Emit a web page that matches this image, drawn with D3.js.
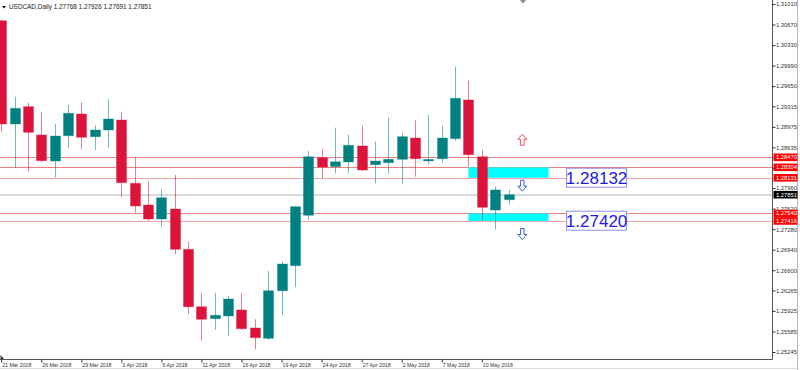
<!DOCTYPE html>
<html><head><meta charset="utf-8">
<script src="https://cdn.jsdelivr.net/npm/d3@7"></script>
<style>body{margin:0;background:#fff;}svg{display:block;}text{font-family:"Liberation Sans",Arial,sans-serif;}</style>
</head><body><svg id="c" width="800" height="370"></svg>
<script>
const dates = ["21 Mar 2018","22 Mar 2018","23 Mar 2018","26 Mar 2018","27 Mar 2018","28 Mar 2018","29 Mar 2018","30 Mar 2018","2 Apr 2018","3 Apr 2018","4 Apr 2018","5 Apr 2018","6 Apr 2018","9 Apr 2018","10 Apr 2018","11 Apr 2018","12 Apr 2018","13 Apr 2018","16 Apr 2018","17 Apr 2018","18 Apr 2018","19 Apr 2018","20 Apr 2018","23 Apr 2018","24 Apr 2018","25 Apr 2018","26 Apr 2018","27 Apr 2018","30 Apr 2018","1 May 2018","2 May 2018","3 May 2018","4 May 2018","7 May 2018","8 May 2018","9 May 2018","10 May 2018","11 May 2018","14 May 2018"];
const open  = [1.30733,1.29022,1.29309,1.28840,1.28409,1.28828,1.29188,1.28812,1.28923,1.29088,1.28040,1.27680,1.27448,1.27614,1.26946,1.25995,1.25797,1.25841,1.25941,1.25643,1.25472,1.26260,1.26675,1.27510,1.28464,1.28315,1.28393,1.28658,1.28348,1.28381,1.28437,1.28790,1.28428,1.28447,1.28779,1.29420,1.28480,1.27597,1.27768];
const high  = [1.30750,1.29474,1.29375,1.29216,1.29022,1.29337,1.29382,1.29001,1.29431,1.29226,1.28480,1.28066,1.27950,1.28177,1.27072,1.26227,1.26227,1.26173,1.26227,1.25787,1.26587,1.26741,1.27664,1.28575,1.28603,1.28961,1.28845,1.28994,1.28735,1.29126,1.28878,1.29083,1.29171,1.28989,1.29971,1.29739,1.28591,1.27984,1.27926];
const low   = [1.28894,1.28288,1.28232,1.28388,1.28139,1.28619,1.28603,1.28591,1.28619,1.27808,1.27553,1.27420,1.27311,1.26868,1.25874,1.25432,1.25610,1.25510,1.25610,1.25290,1.25443,1.25853,1.26317,1.27432,1.28116,1.28205,1.28205,1.28243,1.28040,1.28194,1.28023,1.28149,1.28354,1.28381,1.28745,1.28315,1.27420,1.27277,1.27691];
const close = [1.29022,1.29282,1.28884,1.28414,1.28823,1.29199,1.28802,1.28923,1.29105,1.28050,1.27664,1.27448,1.27801,1.26946,1.25995,1.25787,1.25853,1.26123,1.25631,1.25482,1.26260,1.26703,1.27652,1.28480,1.28310,1.28397,1.28669,1.28260,1.28409,1.28437,1.28812,1.28447,1.28435,1.28790,1.29448,1.28514,1.27642,1.27929,1.27851];
const yTicks = [1.31010,1.30670,1.30330,1.29990,1.29650,1.29315,1.28975,1.28635,1.28295,1.27960,1.27620,1.27280,1.26940,1.26600,1.26265,1.25925,1.25585,1.25245];
const xLabelIdx = [0,3,6,9,12,15,18,21,24,27,30,33,36];
const redLevels = [1.28470,1.28304,1.28131,1.27540,1.27416];
const redLevelStyle = ["#ef7f7f","#ef7f7f","#f5a3a3","#ef7f7f","#f5a3a3"];
const lastPrice = 1.27851;
const zones = [[1.28304,1.28131],[1.27540,1.27416]];
const boxLabels = [1.28132,1.27420];
const header = "USDCAD,Daily 1.27768 1.27926 1.27691 1.27851";

const svg = d3.select("#c");
const W = 800, H = 370, plotR = 772.5, plotB = 359;
const x = d3.scaleLinear().domain([0, 38]).range([1.2, 1.2 + 13.35*38]);
const y = d3.scaleLinear().domain([1.25245, 1.31010]).range([352, 4]);
const GREEN = "#008080", RED = "#dc143c";

svg.append("rect").attr("width",W).attr("height",H).attr("fill","#fff");
const plot = svg.append("g");
plot.append("clipPath").attr("id","clip").append("rect").attr("x",0).attr("y",0).attr("width",plotR).attr("height",plotB);
const g = plot.append("g").attr("clip-path","url(#clip)");

// price lines
g.selectAll(".lvl").data(redLevels).join("line")
  .attr("x1",0).attr("x2",plotR).attr("y1",d=>Math.round(y(d))+0.5).attr("y2",d=>Math.round(y(d))+0.5)
  .attr("stroke",(d,i)=>redLevelStyle[i]).attr("stroke-width",1);
g.append("line").attr("x1",0).attr("x2",plotR).attr("y1",Math.round(y(lastPrice))).attr("y2",Math.round(y(lastPrice)))
  .attr("stroke","#d8dadd").attr("stroke-width",2);

// zones
g.selectAll(".zone").data(zones).join("rect")
  .attr("x",x(35)).attr("width",x(41)-x(35))
  .attr("y",d=>y(d[0])).attr("height",d=>y(d[1])-y(d[0]))
  .attr("fill","#00ffff");

// candles
const idx = d3.range(dates.length);
const col = i => close[i] >= open[i] ? GREEN : RED;
g.selectAll(".wick").data(idx).join("line")
  .attr("x1",i=>Math.round(x(i))+0.5).attr("x2",i=>Math.round(x(i))+0.5)
  .attr("y1",i=>y(high[i])).attr("y2",i=>y(low[i]))
  .attr("stroke",col).attr("stroke-opacity",0.55).attr("stroke-width",1);
g.selectAll(".body").data(idx).join("rect")
  .attr("x",i=>Math.round(x(i))-4.5).attr("width",10)
  .attr("y",i=>y(Math.max(open[i],close[i])))
  .attr("height",i=>Math.max(1.5, Math.abs(y(open[i])-y(close[i]))))
  .attr("fill",col).attr("stroke",col).attr("stroke-opacity",0.35).attr("stroke-width",1);

// arrows
function arrow(cx, cy, up, color){
  const s = up ? 1 : -1;
  const pts = [[0,-5.5],[4.5,-0.5],[1.7,-0.5],[1.7,5.5],[-1.7,5.5],[-1.7,-0.5],[-4.5,-0.5]]
    .map(p=>[cx+p[0], cy+s*p[1]]);
  g.append("path").attr("d","M"+pts.map(p=>p.join(",")).join("L")+"Z")
    .attr("fill","#fff").attr("stroke",color).attr("stroke-width",1);
}
arrow(x(39)+0.5, y(1.28760), true, "#f0505a");
arrow(x(39)+0.5, y(1.28000), false, "#3a5adf");
arrow(x(39)+0.5, y(1.27200), false, "#3a5adf");

// value boxes
boxLabels.forEach(v=>{
  const bx = x(42.35), cy = y(v);
  g.append("rect").attr("x",bx).attr("y",cy-9.5).attr("width",60).attr("height",19)
    .attr("fill","#fff").attr("stroke","#8f8ff0").attr("stroke-width",1);
  g.append("text").attr("x",bx+30).attr("y",cy+6).attr("text-anchor","middle")
    .attr("font-size",17).attr("fill","#1a1ae6").text(d3.format(".5f")(v));
});

// frame lines
svg.append("line").attr("x1",plotR).attr("x2",plotR).attr("y1",0).attr("y2",plotB+0.5).attr("stroke","#555");
svg.append("line").attr("x1",0).attr("x2",plotR).attr("y1",plotB+0.5).attr("y2",plotB+0.5).attr("stroke","#555");
svg.append("line").attr("x1",797.5).attr("x2",797.5).attr("y1",0).attr("y2",H).attr("stroke","#b8b8b8");
svg.append("line").attr("x1",0).attr("x2",797).attr("y1",368.5).attr("y2",368.5).attr("stroke","#dcdcdc");

// y axis
const yAxis = svg.append("g").attr("transform",`translate(${plotR},0)`)
  .call(d3.axisRight(y).tickValues(yTicks).tickSize(3).tickFormat(d3.format(".5f")));
yAxis.select(".domain").remove();
yAxis.selectAll("line").attr("stroke","#333");
yAxis.selectAll("text").attr("font-size",5.8).attr("fill","#333").attr("x",3.5).attr("font-family","Liberation Sans, Arial");

// price tags
const tags = redLevels.map(v=>({v, c:"#ff0000"})).concat([{v:lastPrice, c:"#000"}]);
const tg = svg.append("g").selectAll("g").data(tags).join("g").attr("transform",d=>`translate(${plotR+1},${y(d.v)})`);
tg.append("rect").attr("x",0).attr("y",-3.8).attr("width",24).attr("height",7.6).attr("fill",d=>d.c);
tg.append("text").attr("x",2.5).attr("y",2).attr("font-size",5.8).attr("fill","#fff").text(d=>d3.format(".5f")(d.v));

// x axis
const xAxis = svg.append("g").attr("transform",`translate(0,${plotB+0.5})`)
  .call(d3.axisBottom(x).tickValues(xLabelIdx).tickSize(3).tickFormat(i=>dates[i]));
xAxis.select(".domain").remove();
xAxis.selectAll("line").attr("stroke","#333");
xAxis.selectAll("text").attr("text-anchor","start").attr("dx",0.5).attr("y",3.5).attr("dy","0.71em")
  .attr("font-size",5.2).attr("fill","#333").attr("font-family","Liberation Sans, Arial");

// header
svg.append("path").attr("d","M2,6 L6,6 L4,8.5Z").attr("fill","#000");
svg.append("text").attr("x",9).attr("y",8.5).attr("font-size",6.4).attr("fill","#222").text(header);
// shift marker
svg.append("path").attr("d","M520,0 L526,0 L523,3.5Z").attr("fill","#888");
svg.append("path").attr("d","M0.5,355 L0.5,359 L4,359Z").attr("fill","#333");
</script></body></html>
